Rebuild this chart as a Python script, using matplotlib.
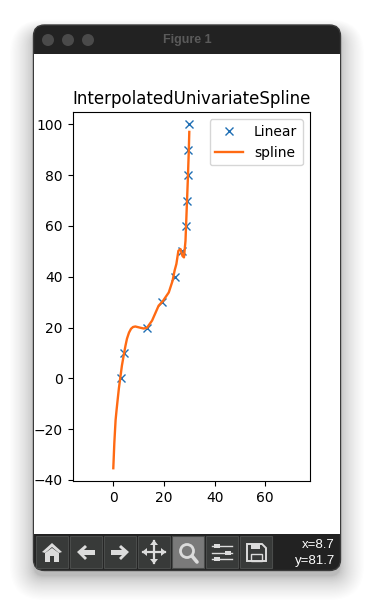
import matplotlib
matplotlib.use("Agg")
import matplotlib.pyplot as plt
from matplotlib.patches import FancyBboxPatch, Rectangle, Circle, Polygon

title = "InterpolatedUnivariateSpline"
linear_x = [3, 4.4, 13.4, 19.4, 24.4, 27, 28.8, 29.2, 29.4, 29.6, 29.9]
linear_y = [0, 10, 20, 30, 40, 50, 60, 70, 80, 90, 100]
spline_x = [0, 0.2, 0.4, 0.65, 0.9, 1.3, 1.7, 2.2, 2.8, 3.4, 4.1, 4.8, 5.4, 6.2, 7, 7.8, 8.7, 10.7, 12, 13.3, 15.3, 17.9, 19.5,
            21.9, 23.4, 24.2, 24.9, 25.7, 26.5, 27.3, 27.9, 28.5, 28.9, 29.4, 29.8, 30]
spline_y = [-35.4, -30.5, -25.6, -21, -16.5, -12.4, -8.6, -4, 0.5, 5, 9, 12.8, 15.6, 18, 19.5, 20.2, 20.4, 19.9, 19.6, 19.9, 22.7, 28.6, 30.3,
            33.8, 38.4, 42.4, 45, 50.2, 50.9, 48.2, 47.6, 54.1, 64.6, 77.6, 89.4, 97]
x_ticks = [0, 20, 40, 60]
y_ticks = [-40, -20, 0, 20, 40, 60, 80, 100]
status = ["x=8.7", "y=81.7"]
window_title = "Figure 1"

W, H = 374, 612
fig = plt.figure(figsize=(W / 100, H / 100), dpi=100, facecolor="white")

# window chrome, in pixel coordinates
c = fig.add_axes([0, 0, 1, 1], zorder=0)
c.set_xlim(0, W); c.set_ylim(H, 0); c.axis("off")

def rrect(x0, y0, x1, y1, r, **kw):
    p = FancyBboxPatch((x0 + r, y0 + r), x1 - x0 - 2 * r, y1 - y0 - 2 * r,
                       boxstyle=f"round,pad={r},rounding_size={r}", **kw)
    c.add_patch(p)
    return p

n = 34
for i in range(n, 0, -1):
    g = 24 * (i / n) ** 1.7
    rrect(34 - g, 34 - g * 0.6, 340 + g, 576 + g, 10 + g, fc="black", ec="none", alpha=0.007)
rrect(33.5, 25, 340.5, 570.5, 11, fc="#222222", ec="#3a3a3a", lw=1)
c.add_patch(Rectangle((34, 54), 306, 480, fc="white", ec="none"))
for cx in (48, 68, 88):
    c.add_patch(Circle((cx, 40), 6, fc="#4a4a4a", ec="none"))
c.text(187, 40, window_title, color="#5a5a5a", fontsize=9, fontweight="bold",
       ha="center", va="center", family="Liberation Sans")

ic = "#dcdcdc"
for i, x0 in enumerate((36, 70, 104, 138, 172, 206, 240)):
    active = i == 4
    c.add_patch(Rectangle((x0, 536), 32, 32, fc="#7a7a7a" if active else "#383a39",
                          ec="#4a4c4b", lw=0.8))
# home
c.add_patch(Polygon([(42, 552), (52, 543), (62, 552), (59, 553), (52, 547), (45, 553)], fc=ic, ec="none"))
c.add_patch(Polygon([(45, 553), (52, 548), (59, 553), (59, 562), (54, 562), (54, 556), (50, 556), (50, 562), (45, 562)], fc=ic, ec="none"))
# back / forward
c.add_patch(Polygon([(77, 552), (85, 545), (87, 547), (84, 550), (95, 550), (95, 555), (84, 555), (87, 558), (85, 560)], fc=ic, ec="none"))
c.add_patch(Polygon([(129, 552), (121, 545), (119, 547), (122, 550), (111, 550), (111, 555), (122, 555), (119, 558), (121, 560)], fc=ic, ec="none"))
# move
c.plot([143, 165], [552, 552], color=ic, lw=1.6)
c.plot([154, 154], [541, 563], color=ic, lw=1.6)
for pts in ([(154, 540), (150, 545), (158, 545)], [(154, 564), (150, 559), (158, 559)],
            [(142, 552), (147, 548), (147, 556)], [(166, 552), (161, 548), (161, 556)]):
    c.add_patch(Polygon(pts, fc=ic, ec="none"))
# zoom
c.add_patch(Circle((187, 551), 6.5, fc="none", ec=ic, lw=2))
c.plot([192, 197], [556, 562], color=ic, lw=2.6, solid_capstyle="round")
# sliders
for yy, xx in ((546, 217), (553, 228), (559, 217)):
    c.plot([212, 232], [yy, yy], color=ic, lw=1)
    c.add_patch(Rectangle((xx - 3, yy - 2), 6, 4, fc=ic, ec="none"))
# save
c.add_patch(Polygon([(247, 544), (262, 544), (266, 548), (266, 561), (247, 561)], fc="none", ec=ic, lw=1.4))
c.add_patch(Rectangle((251, 544), 9, 5, fc=ic, ec="none"))
c.add_patch(Rectangle((251, 554), 11, 7, fc="none", ec=ic, lw=1))

c.text(335, 544.5, status[0], color="white", fontsize=9.5, ha="right", va="center", family="Liberation Sans")
c.text(335, 561, status[1], color="white", fontsize=9.5, ha="right", va="center", family="Liberation Sans")

# chart
L, R, T, B = 72.7, 309.7, 112.3, 481
x0px, xs = 113.3, 2.533
y0px, ys = 378.3, 2.54
ax = fig.add_axes([L / W, 1 - B / H, (R - L) / W, (B - T) / H], zorder=1)
ax.plot(linear_x, linear_y, "x", color="#1f6fb4", ms=6, label="Linear")
ax.plot(spline_x, spline_y, color="#ff6a13", lw=1.7, label="spline")
ax.set_xlim((L - x0px) / xs, (R - x0px) / xs)
ax.set_ylim((y0px - B) / ys, (y0px - T) / ys)
ax.set_xticks(x_ticks)
ax.set_yticks(y_ticks)
ax.set_title(title, fontsize=12)
ax.legend(loc="upper right")

fig.savefig("out.png", dpi=100)
